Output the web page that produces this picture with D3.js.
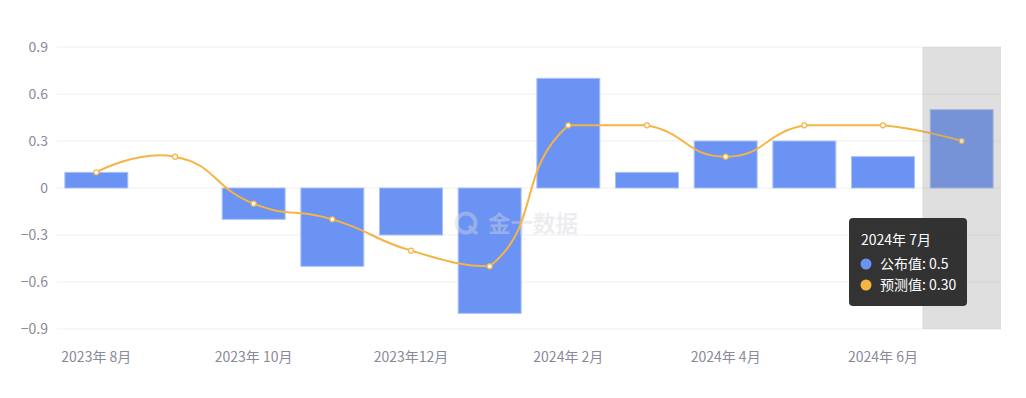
<!DOCTYPE html>
<html><head><meta charset="utf-8">
<script src="https://cdn.jsdelivr.net/npm/d3@7/dist/d3.min.js"></script>
<style>body{margin:0;background:#fff;font-family:"Noto Sans CJK SC","Microsoft YaHei",sans-serif;}</style>
</head><body><svg id="c" width="1026" height="398"></svg>
<script>
const categories = ["2023年 8月","2023年 9月","2023年 10月","2023年 11月","2023年12月","2024年 1月","2024年 2月","2024年 3月","2024年 4月","2024年 5月","2024年 6月","2024年 7月"];
const actual = [0.1, null, -0.2, -0.5, -0.3, -0.8, 0.7, 0.1, 0.3, 0.3, 0.2, 0.5];
const forecast = [0.1, 0.2, -0.1, -0.2, -0.4, -0.5, 0.4, 0.4, 0.2, 0.4, 0.4, 0.3];
const yTicks = [-0.9, -0.6, -0.3, 0, 0.3, 0.6, 0.9];
const labelIdx = [0, 2, 4, 6, 8, 10];
const hoverIdx = 11;

const svg = d3.select("#c");
const L = 57, R = 1001, T = 47, B = 329;
const x = d3.scaleBand().domain(categories).range([L, R]).paddingInner(0.2).paddingOuter(0.1);
const xc = d => x(d) + x.bandwidth() / 2;
const band = d3.scaleBand().domain(categories).range([L, R]);
const y = d3.scaleLinear().domain([-0.9, 0.9]).range([B, T]);

// grid
svg.append("g").selectAll("line").data(yTicks).join("line")
  .attr("x1", L).attr("x2", R).attr("y1", d => y(d)).attr("y2", d => y(d))
  .attr("stroke", "#f0f0f2").attr("stroke-width", 1);
// y labels
const fmt = d => d === 0 ? "0" : d3.format(".1f")(d);
svg.append("g").selectAll("text").data(yTicks).join("text")
  .attr("x", 48).attr("y", d => y(d)).attr("dy", "0.35em").attr("text-anchor", "end")
  .attr("font-size", 14).attr("fill", "#8a8a98").text(fmt);
// x labels
svg.append("g").selectAll("text").data(labelIdx).join("text")
  .attr("x", i => xc(categories[i])).attr("y", 362).attr("text-anchor", "middle")
  .attr("font-size", 14).attr("fill", "#8a8a98").text(i => categories[i]);

// bars
const bd = categories.map((c, i) => ({c, v: actual[i]})).filter(d => d.v !== null);
svg.append("g").selectAll("rect").data(bd).join("rect")
  .attr("x", d => x(d.c)).attr("width", x.bandwidth())
  .attr("y", d => y(Math.max(0, d.v))).attr("height", d => Math.abs(y(d.v) - y(0)))
  .attr("fill", "#6b93f4").attr("stroke", "#a9c0f8").attr("stroke-width", 1);

// watermark (over bars, under line)
const wm = svg.append("g").attr("opacity", 0.42);
wm.append("circle").attr("cx", 466).attr("cy", 223).attr("r", 9.5).attr("fill", "none").attr("stroke", "#d6d6de").attr("stroke-width", 4);
wm.append("line").attr("x1", 469).attr("y1", 226).attr("x2", 477).attr("y2", 234).attr("stroke", "#d6d6de").attr("stroke-width", 3.5);
wm.append("text").attr("x", 488).attr("y", 232).attr("font-size", 22.5).attr("font-weight", "bold").attr("fill", "#d6d6de").text("金十数据");

// smooth line (bezier with global bounding-box constraint)
function smoothPath(pts, s) {
  const xs = pts.map(p => p[0]), ys = pts.map(p => p[1]);
  const mnx = d3.min(xs), mxx = d3.max(xs), mny = d3.min(ys), mxy = d3.max(ys);
  const cx_ = v => Math.max(mnx, Math.min(mxx, v)), cy_ = v => Math.max(mny, Math.min(mxy, v));
  const p = d3.path();
  p.moveTo(pts[0][0], pts[0][1]);
  let c0 = [pts[0][0], pts[0][1]];
  for (let i = 1; i < pts.length; i++) {
    const cur = pts[i], prev = pts[i - 1], next = pts[i + 1];
    let c1, vx = 0, vy = 0, ratio = 0.5;
    if (!next) {
      c1 = [cur[0], cur[1]];
    } else {
      vx = next[0] - prev[0]; vy = next[1] - prev[1];
      const lp = Math.hypot(cur[0] - prev[0], cur[1] - prev[1]);
      const ln = Math.hypot(next[0] - cur[0], next[1] - cur[1]);
      ratio = ln / (ln + lp);
      c1 = [cur[0] - vx * s * (1 - ratio), cur[1] - vy * s * (1 - ratio)];
    }
    p.bezierCurveTo(cx_(c0[0]), cy_(c0[1]), cx_(c1[0]), cy_(c1[1]), cur[0], cur[1]);
    c0 = [cur[0] + vx * s * ratio, cur[1] + vy * s * ratio];
  }
  return p.toString();
}
const ld = categories.map((c, i) => ({c, v: forecast[i]}));
svg.append("path").attr("d", smoothPath(ld.map(d => [xc(d.c), y(d.v)]), 0.5))
  .attr("fill", "none").attr("stroke", "#f6b443").attr("stroke-width", 2);
svg.append("g").selectAll("circle").data(ld).join("circle")
  .attr("cx", d => xc(d.c)).attr("cy", d => y(d.v)).attr("r", 2.5)
  .attr("fill", "#fff").attr("stroke", "#f6b443").attr("stroke-width", 1.2);

// hover shadow
svg.append("rect").attr("x", band(categories[hoverIdx])).attr("width", band.bandwidth())
  .attr("y", T).attr("height", B - T).attr("fill", "rgba(150,150,150,0.3)");

// tooltip
const tt = svg.append("g").attr("transform", "translate(849,218)");
tt.append("rect").attr("width", 118).attr("height", 88).attr("rx", 4).attr("fill", "rgba(40,40,40,0.95)");
tt.append("text").attr("x", 12).attr("y", 27).attr("font-size", 14).attr("fill", "#fff").text(categories[hoverIdx]);
const items = [["公布值", d3.format(".1f")(actual[hoverIdx]), "#6b93f4"], ["预测值", d3.format(".2f")(forecast[hoverIdx]), "#f6b443"]];
items.forEach((it, k) => {
  tt.append("circle").attr("cx", 17).attr("cy", 46 + k * 21).attr("r", 5.5).attr("fill", it[2]);
  tt.append("text").attr("x", 31).attr("y", 51 + k * 21).attr("font-size", 14).attr("fill", "#fff").text(it[0] + ": " + it[1]);
});
</script></body></html>
